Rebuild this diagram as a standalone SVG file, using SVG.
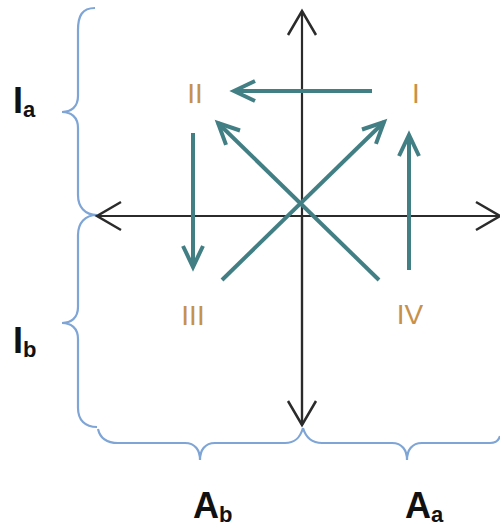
<svg xmlns="http://www.w3.org/2000/svg" width="500" height="526" viewBox="0 0 500 526">
<style>
.axis{stroke:#2b2b2b;stroke-width:2.2;fill:none}
.flow{stroke:#427f85;stroke-width:4;fill:none}
.brace{stroke:#7ea5d6;stroke-width:2.2;fill:none}
.num{font-family:"Liberation Sans",Arial,sans-serif;font-size:28px;fill:#c8914a;text-anchor:middle}
.lab{font-family:"Liberation Sans",Arial,sans-serif;font-weight:bold;font-size:36px;fill:#111}
.sub{font-size:22px}
</style>
<defs>
<marker id="ah" markerUnits="userSpaceOnUse" orient="auto" refX="0" refY="0" markerWidth="40" markerHeight="40" viewBox="-30 -20 40 40" overflow="visible">
<path d="M-24,-14 L0,0 L-24,14" fill="none" stroke="#2b2b2b" stroke-width="2.5"/>
</marker>
<marker id="th" markerUnits="userSpaceOnUse" orient="auto" refX="0" refY="0" markerWidth="40" markerHeight="40" viewBox="-30 -20 40 40" overflow="visible">
<path d="M-21,-10 L0,0 L-21,10" fill="none" stroke="#427f85" stroke-width="4" stroke-linejoin="miter"/>
</marker>
</defs>
<g id="braces">
<path class="brace" d="M95,8 C82,8 78,16 78,30 L78,96 C78,107 71,112 62,112 C71,112 78,117 78,128 L78,195 C78,207 85,215 97,215"/>
<path class="brace" d="M97,215 C85,215 78,223 78,235 L78,307 C78,318 71,323 62,323 C71,323 78,328 78,339 L78,408 C78,420 85,427 97,427"/>
<path class="brace" d="M98,429 C100,438 106,443 118,443 L185,443 C195,443 200,450 200,460 C200,450 205,443 215,443 L285,443 C295,443 300,438 303,428"/>
<path class="brace" d="M303,428 C306,438 312,443 322,443 L392,443 C402,443 407,450 407,460 C407,450 412,443 422,443 L490,443 C496,443 499,440 500,436"/>
</g>
<g id="axes">
<line class="axis" x1="302" y1="425" x2="302" y2="11" marker-end="url(#ah)"/>
<line class="axis" x1="302" y1="216" x2="302" y2="425" marker-end="url(#ah)"/>
<line class="axis" x1="302" y1="216" x2="97" y2="216" marker-end="url(#ah)"/>
<line class="axis" x1="302" y1="216" x2="500" y2="216" marker-end="url(#ah)"/>
</g>
<g id="connectors">
<line class="flow" x1="372" y1="91" x2="234" y2="91" marker-end="url(#th)"/>
<line class="flow" x1="379" y1="280" x2="218" y2="123" marker-end="url(#th)"/>
<line class="flow" x1="222" y1="280" x2="384" y2="122" marker-end="url(#th)"/>
<line class="flow" x1="193" y1="133" x2="193" y2="267" marker-end="url(#th)"/>
<line class="flow" x1="409" y1="270" x2="409" y2="135" marker-end="url(#th)"/>
</g>
<g id="node-I"><text class="num" x="416" y="103">I</text></g>
<g id="node-II"><text class="num" x="195" y="103">II</text></g>
<g id="node-III"><text class="num" x="193" y="325">III</text></g>
<g id="node-IV"><text class="num" x="410" y="324">IV</text></g>
<g id="label-Ia"><text class="lab" x="13" y="113">I<tspan class="sub" dy="4">a</tspan></text></g>
<g id="label-Ib"><text class="lab" x="13" y="353">I<tspan class="sub" dy="4">b</tspan></text></g>
<g id="label-Ab"><text class="lab" x="193" y="518">A<tspan class="sub" dy="4">b</tspan></text></g>
<g id="label-Aa"><text class="lab" x="405" y="518">A<tspan class="sub" dy="4">a</tspan></text></g>
</svg>
